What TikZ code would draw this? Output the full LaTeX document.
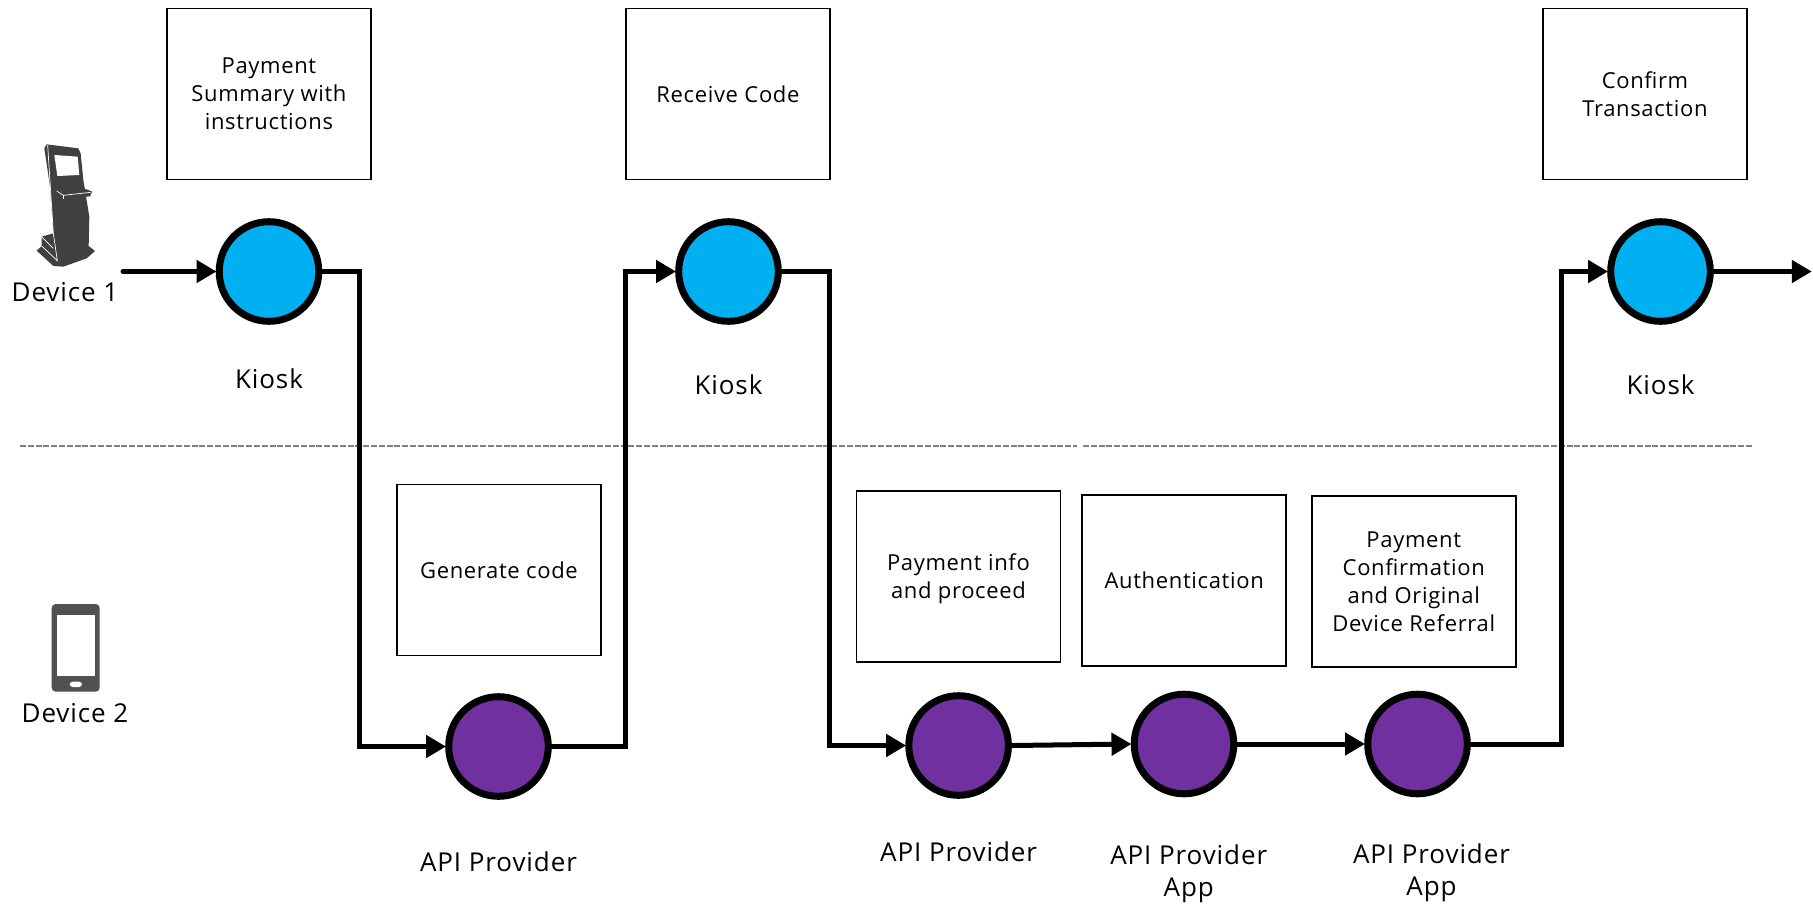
\documentclass[tikz,border=0pt]{standalone}
\usepackage{fontspec}
\setmainfont{Open Sans}
\newfontfamily\spacedfont[LetterSpace=3]{Open Sans}
\newfontfamily\labelfont[LetterSpace=3.5]{Open Sans}
\usetikzlibrary{arrows.meta}
\definecolor{kblue}{HTML}{00B0F0}
\definecolor{kpurple}{HTML}{7030A0}
\definecolor{kicon}{HTML}{404040}
\definecolor{kphone}{HTML}{505050}
\tikzset{
  infobox/.style={draw=black,line width=0.75pt,fill=white,minimum width=102pt,minimum height=85.5pt,align=center,inner sep=2pt,font=\spacedfont\fontsize{11}{14}\selectfont,anchor=north west},
  stepblue/.style={circle,draw=black,line width=3.5pt,fill=kblue,minimum size=49.8pt,inner sep=0pt},
  steppurple/.style={circle,draw=black,line width=3.5pt,fill=kpurple,minimum size=49.8pt,inner sep=0pt},
  flow/.style={draw=black,line width=2.5pt,line cap=round,shorten >=-0.4pt,-{Triangle[length=10pt,width=11pt]}},
  lbl/.style={align=center,font=\labelfont\fontsize{13}{16}\selectfont,inner sep=0pt},
  divider/.style={draw=gray,line width=0.7pt,dash pattern=on 3pt off 0.9pt},
}
\begin{document}
\begin{tikzpicture}[x=0.5pt,y=-0.5pt]
\useasboundingbox (0,0) rectangle (1813,905);
% divider
\coordinate (dv1) at (20,446);
\coordinate (dv2) at (1077,446);
\coordinate (dv3) at (1083,446);
\coordinate (dv4) at (1753,446);
\draw[divider] (dv1) -- (dv2);
\draw[divider] (dv3) -- (dv4);
% boxes
\node[infobox] (b1) at (166.2,7.9) {Payment\\Summary with\\instructions};
\node[infobox] (b2) at (625.2,7.9) {Receive Code};
\node[infobox] (b3) at (1542.2,7.9) {Confirm\\Transaction};
\node[infobox] (b4) at (396.2,483.9) {Generate code};
\node[infobox] (b5) at (855.7,490.4) {\rule{0pt}{10.7pt}Payment info\\and proceed};
\node[infobox] (b6) at (1081.4,494.4) {Authentication};
\node[infobox] (b7) at (1311,495.4) {Payment\\Confirmation\\and Original\\Device Referral};
% circles
\node[stepblue] (k1) at (269,271.5) {};
\node[stepblue] (k2) at (728.5,271.5) {};
\node[stepblue] (k3) at (1660.5,271.5) {};
\node[steppurple] (p1) at (498.5,746.5) {};
\node[steppurple] (p2) at (958.6,745.5) {};
\node[steppurple] (p3) at (1184,744) {};
\node[steppurple] (p4) at (1417.5,744) {};
% free ends and routing
\coordinate (s) at (123,271.5);
\coordinate (e) at (1811,271.5);
\coordinate (j1) at (359.5,500);
\coordinate (j2) at (625.5,500);
\coordinate (j3) at (829,500);
\coordinate (j4) at (1561.5,500);
% connectors
\draw[flow] (s) -- (k1);
\draw[flow] (k1.east) -| (j1) |- (p1.west);
\draw[flow] (p1.east) -| (j2) |- (k2.west);
\draw[flow] (k2.east) -| (j3) |- (p2.west);
\draw[flow] (p2.east) -- (p3.west);
\draw[flow] (p3.east) -- (p4.west);
\draw[flow] (p4.east) -| (j4) |- (k3.west);
\draw[flow] (k3.east) -- (e);
% labels
\node[lbl] (l1) at (269,379) {Kiosk};
\node[lbl] (l2) at (728.5,385) {Kiosk};
\node[lbl] (l3) at (1660.5,385) {Kiosk};
\node[lbl] (l4) at (498.5,861.5) {API Provider};
\node[lbl] (l5) at (958.6,852) {API Provider};
\node[lbl,anchor=north] (l6) at (1188.7,844.5) {API Provider\\App};
\node[lbl,anchor=north] (l7) at (1431.5,843.5) {API Provider\\App};
\node[lbl] (d1) at (65,292.5) {Device 1};
\node[lbl] (d2) at (75,713.5) {Device 2};
% kiosk icon
\begin{scope}[shift={(0,120)},x=0.16667pt,y=-0.16667pt]
\fill[kicon] (140,73) -- (235,85) -- (242,100) -- (250,180) -- (268,290) -- (266,378) -- (285,393) -- (260,415) -- (190,440) -- (160,438) -- (110,392) -- (125,378) -- (125,350) -- (160,340) -- (150,200) -- (133,85) -- cycle;
\fill[white] (163,105) -- (233,110) -- (238,165) -- (172,168) -- cycle;
\draw[kicon,fill=kicon,line width=0.2pt] (168,212) -- (250,205) -- (275,215) -- (270,228) -- (190,237) -- (170,225) -- cycle;
\draw[white,line width=0.35pt] (143,75) -- (160,340) -- (172,422) -- (125,378);
\draw[white,line width=0.35pt] (125,350) -- (160,385);
\draw[white,line width=0.35pt] (170,213) -- (190,226) -- (272,217);
\draw[white,line width=0.35pt] (190,226) -- (190,237);
\end{scope}
% phone icon
\begin{scope}[shift={(0,580)},x=0.16667pt,y=-0.16667pt]
\fill[kphone,rounded corners=2pt] (155,72) rectangle (299,335);
\fill[white] (171,104) rectangle (284,289);
\fill[white,rounded corners=1.5pt] (209,305) rectangle (246,321);
\end{scope}
\end{tikzpicture}
\end{document}
